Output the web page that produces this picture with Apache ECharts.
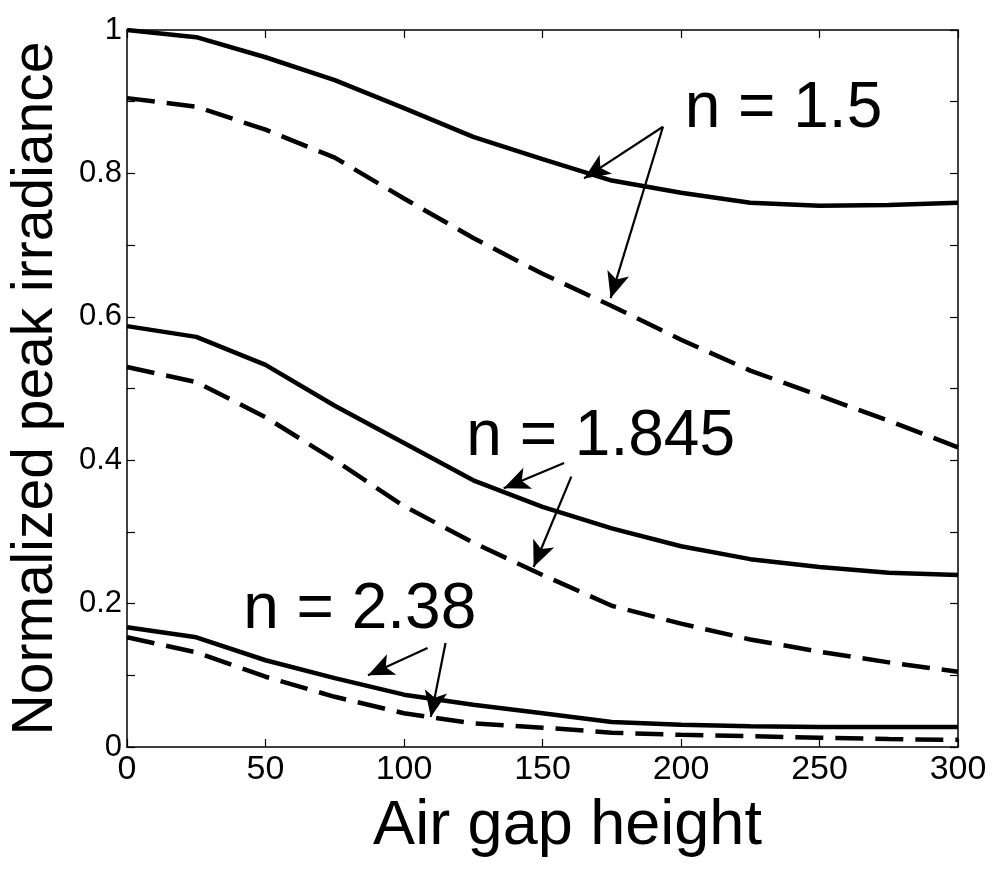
<!DOCTYPE html>
<html>
<head>
<meta charset="utf-8">
<script src="https://cdn.jsdelivr.net/npm/echarts@6/dist/echarts.min.js"></script>
<style>
  html, body { margin: 0; padding: 0; background: #fff; }
  #irradianceChart { width: 1002px; height: 870px; }
</style>
</head>
<body>
<div id="irradianceChart"></div>
<script>
  // air gap height samples
  var gapHeight = [0, 25, 50, 75, 100, 125, 150, 175, 200, 225, 250, 275, 300]

  // normalized peak irradiance, solid and dashed curves for each index
  var n15Solid = [1.0, 0.99, 0.962, 0.93, 0.891, 0.851, 0.82, 0.79, 0.773, 0.759, 0.755, 0.756, 0.759]
  var n15Dashed = [0.905, 0.893, 0.861, 0.822, 0.765, 0.71, 0.66, 0.615, 0.568, 0.525, 0.49, 0.455, 0.418]
  var n1845Solid = [0.587, 0.572, 0.533, 0.476, 0.424, 0.372, 0.335, 0.305, 0.28, 0.262, 0.251, 0.243, 0.24]
  var n1845Dashed = [0.53, 0.509, 0.46, 0.4, 0.336, 0.285, 0.24, 0.197, 0.172, 0.15, 0.133, 0.118, 0.105]
  var n238Solid = [0.167, 0.153, 0.121, 0.096, 0.073, 0.059, 0.047, 0.035, 0.031, 0.029, 0.028, 0.028, 0.028]
  var n238Dashed = [0.153, 0.132, 0.098, 0.07, 0.047, 0.033, 0.027, 0.02, 0.017, 0.015, 0.013, 0.011, 0.01]

  // annotation text and arrows, in data coordinates [x, y]
  var labelNames = ['n = 1.5', 'n = 1.845', 'n = 2.38']
  var labelAt = [[237, 0.89], [171, 0.432], [84, 0.19]]
  var arrowFrom = [[193.5, 0.865], [193.5, 0.865], [157.8, 0.396], [160.4, 0.377], [108.5, 0.138], [115, 0.145]]
  var arrowTo = [[165, 0.793], [174.6, 0.626], [136, 0.361], [146.8, 0.251], [87, 0.1], [109.7, 0.042]]

  var fontName = 'Liberation Sans, Arial, sans-serif'

  function pairs (ys) {
    return gapHeight.map(function (x, i) { return [x, ys[i]] })
  }

  function curve (name, ys, dashed) {
    return {
      name: name,
      type: 'line',
      smooth: false,
      showSymbol: false,
      symbol: 'none',
      silent: true,
      lineStyle: {
        color: '#000',
        width: 4.5,
        type: dashed ? [28, 12] : 'solid'
      },
      data: pairs(ys)
    }
  }

  var arrowSeries = {
    name: 'arrows',
    type: 'line',
    symbol: 'none',
    silent: true,
    data: [],
    markLine: {
      silent: true,
      symbol: ['none', 'arrow'],
      symbolSize: [17, 26],
      label: { show: false },
      lineStyle: { color: '#000', width: 2.2, type: 'solid' },
      data: arrowFrom.map(function (p, i) {
        return [{ coord: p }, { coord: arrowTo[i] }]
      })
    },
    markPoint: {
      silent: true,
      symbol: 'circle',
      symbolSize: 0,
      label: {
        show: true,
        position: 'inside',
        color: '#000',
        fontFamily: fontName,
        fontSize: 64,
        formatter: function (p) { return p.name }
      },
      data: labelNames.map(function (t, i) {
        return { name: t, coord: labelAt[i] }
      })
    }
  }

  var chart = echarts.init(document.getElementById('irradianceChart'))
  chart.setOption({
    animation: false,
    backgroundColor: '#fff',
    grid: {
      left: 125,
      right: 44,
      top: 30,
      bottom: 123
    },
    xAxis: [{
      type: 'value',
      min: 0,
      max: 300,
      interval: 50,
      name: 'Air gap height',
      nameLocation: 'middle',
      nameGap: 48,
      nameTextStyle: {
        color: '#000',
        fontFamily: fontName,
        fontSize: 63,
        padding: [0, 0, 0, 50]
      },
      axisLine: { show: true, onZero: false, lineStyle: { color: '#000', width: 1.5 } },
      axisTick: { show: true, inside: true, length: 8, lineStyle: { color: '#000', width: 1.2 } },
      axisLabel: { color: '#000', fontFamily: fontName, fontSize: 34, margin: 6 },
      splitLine: { show: false }
    }, {
      type: 'value',
      position: 'top',
      min: 0,
      max: 300,
      interval: 50,
      axisLine: { show: true, onZero: false, lineStyle: { color: '#000', width: 1.5 } },
      axisTick: { show: true, inside: true, length: 8, lineStyle: { color: '#000', width: 1.2 } },
      axisLabel: { show: false },
      splitLine: { show: false }
    }],
    yAxis: [{
      type: 'value',
      min: 0,
      max: 1,
      interval: 0.1,
      name: 'Normalized peak irradiance',
      nameLocation: 'middle',
      nameRotate: 90,
      nameGap: 62,
      nameTextStyle: {
        color: '#000',
        fontFamily: fontName,
        fontSize: 57
      },
      axisLine: { show: true, onZero: false, lineStyle: { color: '#000', width: 1.5 } },
      axisTick: { show: true, inside: true, length: 8, lineStyle: { color: '#000', width: 1.2 } },
      axisLabel: {
        color: '#000',
        fontFamily: fontName,
        fontSize: 31,
        margin: 5,
        // only every other tick carries a label
        formatter: function (v) {
          var k = Math.round(v * 10)
          if (k % 2 !== 0) return ''
          if (k === 0) return '0'
          if (k === 10) return '1'
          return (k / 10).toString()
        }
      },
      splitLine: { show: false }
    }, {
      type: 'value',
      position: 'right',
      min: 0,
      max: 1,
      interval: 0.1,
      axisLine: { show: true, onZero: false, lineStyle: { color: '#000', width: 1.5 } },
      axisTick: { show: true, inside: true, length: 8, lineStyle: { color: '#000', width: 1.2 } },
      axisLabel: { show: false },
      splitLine: { show: false }
    }],
    series: [
      curve('n=1.5 solid', n15Solid, false),
      curve('n=1.5 dashed', n15Dashed, true),
      curve('n=1.845 solid', n1845Solid, false),
      curve('n=1.845 dashed', n1845Dashed, true),
      curve('n=2.38 solid', n238Solid, false),
      curve('n=2.38 dashed', n238Dashed, true),
      arrowSeries
    ]
  })
</script>
</body>
</html>
